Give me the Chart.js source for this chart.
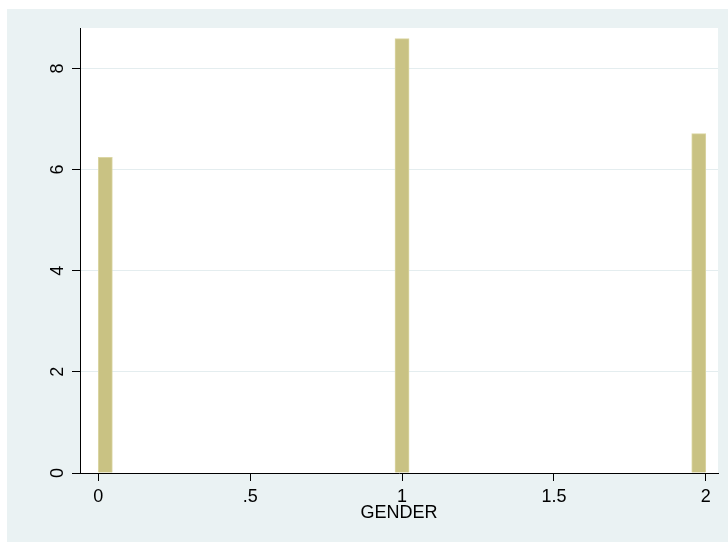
<!DOCTYPE html>
<html>
<head>
<meta charset="utf-8">
<script src="https://cdn.jsdelivr.net/npm/chart.js@4/dist/chart.umd.min.js"></script>
<style>
  html, body { margin: 0; padding: 0; background: #fff; }
  #wrap { width: 728px; height: 542px; }
</style>
</head>
<body>
<div id="wrap"><canvas id="c" width="728" height="542"></canvas></div>
<script>
// Histogram of GENDER: 43 equal bins over [0, 2], density scale
const binWidth = 2 / 43;
const binCenters = [0.0233, 1.0, 1.9767];
const density = [6.24, 8.59, 6.71];
const xTicks = [0, 0.5, 1, 1.5, 2];
const xTickLabels = ['0', '.5', '1', '1.5', '2'];
const yTicks = [0, 2, 4, 6, 8];
const xTitle = 'GENDER';

const FONT = { family: '"Liberation Sans", Arial, sans-serif', size: 18 };

// Graph region and plot region fills
const backdrop = {
  id: 'backdrop',
  beforeDraw(chart) {
    const { ctx, width, height, chartArea: a } = chart;
    ctx.save();
    ctx.fillStyle = '#ffffff';
    ctx.fillRect(0, 0, width, height);
    ctx.fillStyle = '#eaf2f3';
    ctx.fillRect(7, 9, width - 7, height - 9);
    ctx.fillStyle = '#ffffff';
    ctx.fillRect(a.left, a.top, a.right - a.left, a.bottom - a.top);
    ctx.restore();
  }
};

// Each bar spans exactly one bin on the x scale
const binSpan = {
  id: 'binSpan',
  afterLayout(chart) {
    const x = chart.scales.x;
    chart.data.datasets[0].barThickness =
      Math.abs(x.getPixelForValue(binWidth) - x.getPixelForValue(0));
  }
};

new Chart(document.getElementById('c'), {
  type: 'bar',
  data: {
    datasets: [{
      data: binCenters.map((x, i) => ({ x: x, y: density[i] })),
      backgroundColor: '#c9c283',
      borderColor: '#dbd6a4',
      borderWidth: 1,
      borderSkipped: 'start'
    }]
  },
  options: {
    responsive: false,
    animation: false,
    layout: { padding: { top: 28, right: 10, left: 0, bottom: 0 } },
    plugins: { legend: { display: false }, tooltip: { enabled: false } },
    scales: {
      x: {
        type: 'linear',
        min: -0.06,
        max: 2.04,
        offset: false,
        afterBuildTicks: s => { s.ticks = xTicks.map(v => ({ value: v })); },
        afterFit: s => { s.height = 69; },
        ticks: {
          callback: v => xTickLabels[xTicks.indexOf(v)],
          font: FONT,
          color: '#000',
          padding: 5,
          maxRotation: 0,
          minRotation: 0,
          autoSkip: false
        },
        grid: {
          offset: false,
          drawOnChartArea: false,
          tickLength: 8,
          tickColor: '#000'
        },
        border: { color: '#000', width: 1 },
        title: {
          display: true,
          text: xTitle,
          font: FONT,
          color: '#000',
          padding: { top: 0, bottom: 18 }
        }
      },
      y: {
        type: 'linear',
        min: 0,
        max: 8.8,
        afterBuildTicks: s => { s.ticks = yTicks.map(v => ({ value: v })); },
        afterFit: s => { s.width = 80; },
        ticks: {
          font: FONT,
          color: '#000',
          minRotation: 90,
          maxRotation: 90,
          crossAlign: 'center',
          padding: 9
        },
        grid: {
          color: ctx => (ctx.tick && ctx.tick.value === 0) ? 'rgba(0,0,0,0)' : '#e4edef',
          lineWidth: 1,
          tickLength: 8,
          tickColor: '#000'
        },
        border: { color: '#000', width: 1 }
      }
    }
  },
  plugins: [backdrop, binSpan]
});
</script>
</body>
</html>
